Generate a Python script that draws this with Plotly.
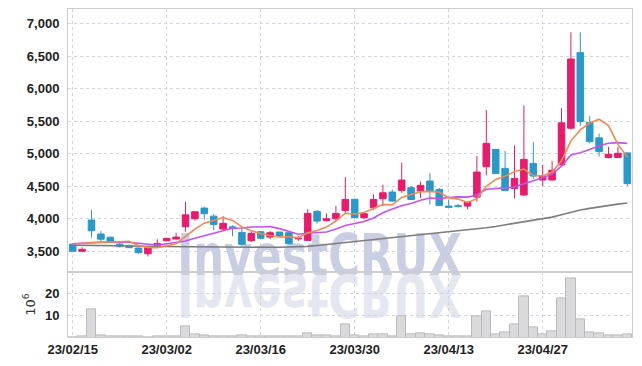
import plotly.graph_objects as go
from plotly.subplots import make_subplots

dates = ["23/02/15","23/02/16","23/02/17","23/02/20","23/02/21","23/02/22","23/02/23","23/02/24","23/02/27","23/02/28",
         "23/03/02","23/03/03","23/03/06","23/03/07","23/03/08","23/03/09","23/03/10","23/03/13","23/03/14","23/03/15",
         "23/03/16","23/03/17","23/03/20","23/03/21","23/03/22","23/03/23","23/03/24","23/03/27","23/03/28","23/03/29",
         "23/03/30","23/03/31","23/04/03","23/04/04","23/04/05","23/04/06","23/04/07","23/04/10","23/04/11","23/04/12",
         "23/04/13","23/04/14","23/04/17","23/04/18","23/04/19","23/04/20","23/04/21","23/04/24","23/04/25","23/04/26",
         "23/04/27","23/04/28","23/05/02","23/05/03","23/05/04","23/05/08","23/05/09","23/05/10","23/05/11","23/05/12"]

opens = [3610, 3500, 3980, 3765, 3715, 3610, 3590, 3550, 3462, 3565,
         3662, 3688, 3877, 4000, 4164, 4040, 3841, 3875, 3790, 3662,
         3800, 3718, 3795, 3785, 3690, 3667, 4113, 3970, 4000, 4128,
         4300, 4015, 4169, 4308, 4410, 4436, 4477, 4426, 4580, 4451,
         4195, 4200, 4195, 4333, 4800, 5067, 4774, 4467, 4364, 4851,
         4596, 4596, 4828, 5393, 6555, 5480, 5244, 4941, 4941, 5013]
highs = [3620, 3560, 4135, 3810, 3725, 3650, 3600, 3555, 3565, 3685,
         3710, 3785, 4260, 4115, 4185, 4072, 4040, 3900, 3865, 3810,
         3810, 3810, 3800, 3790, 3735, 4145, 4135, 4082, 4195, 4640,
         4305, 4100, 4374, 4523, 4450, 4862, 4503, 4570, 4697, 4475,
         4297, 4230, 4260, 4964, 5672, 5070, 5041, 5128, 5744, 5180,
         4828, 4890, 5700, 6868, 6868, 5578, 5311, 5105, 5105, 5015]
lows = [3490, 3495, 3710, 3655, 3630, 3560, 3550, 3460, 3420, 3550,
        3655, 3680, 3800, 3970, 3990, 3826, 3826, 3730, 3570, 3645,
        3690, 3690, 3725, 3610, 3660, 3660, 3928, 3960, 3965, 4092,
        4000, 4000, 4133, 4195, 4260, 4400, 4290, 4318, 4220, 4200,
        4170, 4170, 4144, 4261, 4667, 4690, 4420, 4313, 4355, 4615,
        4504, 4590, 4820, 5372, 5429, 5157, 4956, 4930, 4935, 4504]
closes = [3500, 3530, 3815, 3685, 3645, 3570, 3555, 3478, 3554, 3620,
          3698, 3718, 4060, 4108, 4077, 3913, 3929, 3850, 3606, 3775,
          3700, 3785, 3735, 3615, 3697, 4082, 3964, 4000, 4082, 4297,
          4020, 4077, 4297, 4400, 4272, 4595, 4297, 4513, 4426, 4205,
          4175, 4190, 4256, 4718, 5159, 4697, 4436, 4620, 4913, 4656,
          4658, 4745, 5475, 6457, 5496, 5187, 5033, 4992, 5007, 4540]

ma5 = [3615, 3620, 3625, 3630, 3635, 3649, 3654, 3587, 3560, 3555,
       3581, 3614, 3730, 3841, 3932, 3975, 4018, 3975, 3875, 3815,
       3772, 3743, 3720, 3722, 3706, 3783, 3819, 3872, 3965, 4085,
       4073, 4095, 4155, 4218, 4213, 4328, 4372, 4415, 4421, 4407,
       4323, 4302, 4250, 4309, 4500, 4604, 4653, 4726, 4765, 4664,
       4657, 4718, 4889, 5198, 5366, 5472, 5530, 5433, 5143, 4952]
ma10 = [3615, 3625, 3635, 3640, 3642, 3642, 3638, 3622, 3605, 3595,
        3615, 3634, 3658, 3701, 3744, 3778, 3816, 3853, 3858, 3874,
        3874, 3880, 3848, 3799, 3761, 3777, 3781, 3796, 3844, 3896,
        3928, 3957, 4013, 4092, 4149, 4200, 4234, 4285, 4319, 4310,
        4326, 4337, 4333, 4365, 4453, 4464, 4478, 4488, 4537, 4582,
        4630, 4686, 4808, 4982, 5015, 5064, 5124, 5161, 5171, 5159]
ma60 = [3595, 3594, 3592, 3590, 3588, 3585, 3582, 3579, 3576, 3574,
        3572, 3570, 3569, 3568, 3567, 3566, 3565, 3564, 3563, 3562,
        3560, 3561, 3562, 3564, 3567, 3575, 3588, 3603, 3620, 3640,
        3655, 3670, 3685, 3700, 3714, 3728, 3742, 3756, 3770, 3783,
        3796, 3810, 3826, 3844, 3862, 3882, 3904, 3926, 3950, 3975,
        4003, 4025, 4060, 4100, 4135, 4160, 4185, 4205, 4225, 4242]
volumes = [0.6, 1.0, 13.0, 1.3, 0.8, 0.8, 0.8, 0.8, 0.6, 0.9,
           0.9, 0.9, 5.4, 1.8, 1.4, 0.9, 0.9, 0.7, 1.1, 0.7,
           0.7, 0.7, 0.8, 0.7, 0.7, 2.1, 1.1, 1.1, 0.8, 6.1,
           1.4, 0.9, 1.7, 1.7, 0.9, 9.6, 1.7, 2.1, 1.7, 1.2,
           0.9, 0.8, 0.8, 9.9, 11.9, 1.8, 2.6, 6.1, 18.8, 4.9,
           1.8, 3.2, 17.9, 26.7, 8.5, 2.6, 2.1, 1.4, 1.4, 1.8]
price_ticks = [3500, 4000, 4500, 5000, 5500, 6000, 6500, 7000]
volume_ticks = [10, 20]
date_ticks = [dates[i] for i in range(0, 60, 10)]

PINK = "#e61c6c"
BLUE = "#2b98c9"
TICKFONT = "Liberation Sans, Arial, sans-serif"
WMFONT = "DejaVu Sans Condensed, DejaVu Sans, sans-serif"
GRID = "#d0d3e2"
LINE = "#cdcdcd"

fig = make_subplots(rows=2, cols=1, shared_xaxes=True, vertical_spacing=0)

fig.add_trace(go.Candlestick(
    x=dates, open=opens, high=highs, low=lows, close=closes,
    increasing=dict(line=dict(color=PINK, width=1), fillcolor=PINK),
    decreasing=dict(line=dict(color=BLUE, width=1), fillcolor=BLUE),
    whiskerwidth=0, showlegend=False), row=1, col=1)
fig.add_trace(go.Scatter(x=dates, y=ma60, mode="lines", line=dict(color="#7d7d7d", width=1.6),
                         showlegend=False), row=1, col=1)
fig.add_trace(go.Scatter(x=dates, y=ma10, mode="lines", line=dict(color="#c653ec", width=1.6),
                         showlegend=False), row=1, col=1)
fig.add_trace(go.Scatter(x=dates, y=ma5, mode="lines", line=dict(color="#ee8a52", width=1.6),
                         showlegend=False), row=1, col=1)
fig.add_trace(go.Bar(x=dates, y=volumes, marker=dict(color="#dadadd", line=dict(color="#b9b9be", width=1)),
                     showlegend=False), row=2, col=1)

axis_common = dict(showgrid=True, gridcolor=GRID, griddash="dot", gridwidth=1,
                   showline=True, linecolor=LINE, linewidth=1, mirror=True, zeroline=False,
                   tickfont=dict(family=TICKFONT, size=13, color="#222222", weight="bold"))

fig.update_xaxes(type="category", categoryorder="array", categoryarray=dates,
                 range=[-0.5, 59.5], tickmode="array", tickvals=date_ticks,
                 rangeslider=dict(visible=False), ticks="", **axis_common)
fig.update_xaxes(showticklabels=False, row=1, col=1)
fig.update_xaxes(showticklabels=True, row=2, col=1)

fig.update_yaxes(range=[3175, 7226], tickmode="array", tickvals=price_ticks, tickformat=",",
                 domain=[0.197, 1.0], ticks="", ticklabelstandoff=5, row=1, col=1, **axis_common)
fig.update_yaxes(range=[0.6, 29.4], tickmode="array", tickvals=volume_ticks,
                 domain=[0.0, 0.197], ticks="", ticklabelstandoff=5,
                 title=dict(text="10<sup>6</sup>", font=dict(family="DejaVu Sans, sans-serif", size=13, color="#333333"),
                            standoff=6),
                 row=2, col=1, **axis_common)

fig.add_annotation(text="InvestCRUX", xref="paper", yref="paper", x=0.446, y=0.247,
                   xanchor="center", yanchor="middle", showarrow=False,
                   font=dict(family=WMFONT, size=58, color="#c9cee2", weight="bold"))
fig.add_annotation(text="InvestCRUX", xref="paper", yref="paper", x=0.446, y=0.131,
                   xanchor="center", yanchor="middle", showarrow=False,
                   font=dict(family=WMFONT, size=58, color="#e5e7f0", weight="bold"))

fig.update_layout(width=642, height=366, margin=dict(l=68, r=10, t=9, b=29),
                  paper_bgcolor="white", plot_bgcolor="white", bargap=0, showlegend=False,
                  boxgap=0.3, boxgroupgap=0, hovermode=False)

post = """
document.body.style.margin='0';
var gd = document.getElementById('{plot_id}');
var below = gd.querySelector('.layer-below');
gd.querySelectorAll('g.annotation').forEach(function(a){
  var t = a.querySelector('text');
  t.style.transformBox = 'fill-box';
  t.style.transformOrigin = 'center';
  t.style.transform = (a.getAttribute('data-index') === '1') ? 'scale(0.83,-1)' : 'scale(0.83,1)';
  if (below) { below.appendChild(a); }
});
"""

fig.write_html("out.html", post_script=post, config={"displayModeBar": False})
